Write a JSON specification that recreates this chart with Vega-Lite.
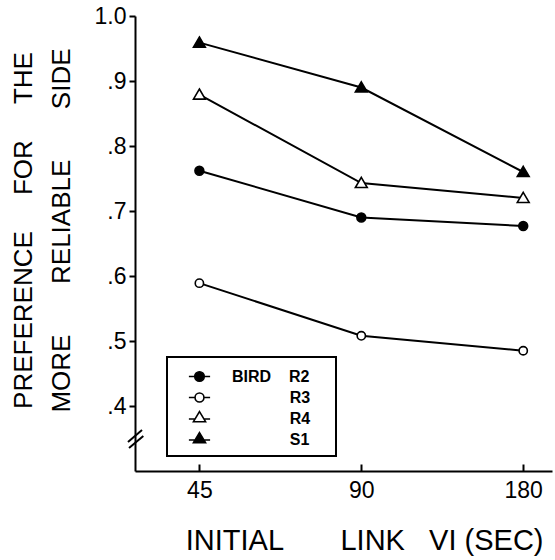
{
  "$schema": "https://vega.github.io/schema/vega-lite/v6.json",
  "width": 417,
  "height": 455,
  "autosize": {"type": "none"},
  "padding": {"left": 135, "top": 16, "right": 3, "bottom": 89},
  "background": "white",
  "config": {
    "view": {"stroke": null},
    "font": "Liberation Sans",
    "axis": {"grid": false, "domainColor": "black", "tickColor": "black", "labelColor": "black", "titleColor": "black", "domainWidth": 2, "tickWidth": 2, "titleFontWeight": "normal"},
    "legend": {"title": null, "orient": "none", "legendX": 32, "legendY": 341, "strokeColor": "black", "strokeWidth": 2, "padding": 8,
      "symbolOffset": 13, "labelOffset": 21, "symbolSize": 450, "symbolStrokeWidth": 1.6,
      "labelFontSize": 16, "labelFontWeight": "bold", "labelColor": "black", "rowPadding": 1, "labelLimit": 300}
  },
  "data": {"values": [
    {"vi": 45, "pref": 0.762, "bird": "R2"}, {"vi": 90, "pref": 0.690, "bird": "R2"}, {"vi": 180, "pref": 0.677, "bird": "R2"},
    {"vi": 45, "pref": 0.589, "bird": "R3"}, {"vi": 90, "pref": 0.508, "bird": "R3"}, {"vi": 180, "pref": 0.485, "bird": "R3"},
    {"vi": 45, "pref": 0.879, "bird": "R4"}, {"vi": 90, "pref": 0.743, "bird": "R4"}, {"vi": 180, "pref": 0.720, "bird": "R4"},
    {"vi": 45, "pref": 0.959, "bird": "S1"}, {"vi": 90, "pref": 0.890, "bird": "S1"}, {"vi": 180, "pref": 0.760, "bird": "S1"}
  ]},
  "resolve": {"scale": {"shape": "independent", "fill": "independent", "stroke": "independent"}},
  "layer": [
    {
      "mark": {"type": "line", "color": "black", "strokeWidth": 2},
      "encoding": {
        "x": {"field": "vi", "type": "quantitative",
          "scale": {"type": "log", "domain": [34.16, 203.6], "nice": false},
          "axis": {"values": [45, 90, 180], "format": "d", "tickSize": -7, "labelPadding": 15, "labelFontSize": 23,
            "title": "INITIAL\u00a0\u00a0\u00a0\u00a0\u00a0\u00a0\u00a0LINK\u00a0\u00a0\u00a0VI\u00a0(SEC)", "titleFontSize": 29, "titlePadding": 24,
            "titleX": 408, "titleAlign": "right", "titleAnchor": "end"}},
        "y": {"field": "pref", "type": "quantitative",
          "scale": {"domain": [0.3, 1.0], "nice": false, "zero": false},
          "axis": {"values": [0.4, 0.5, 0.6, 0.7, 0.8, 0.9, 1.0], "tickSize": 6, "labelPadding": 3, "labelFontSize": 23,
            "labelExpr": "datum.value > 0.95 ? '1.0' : replace(format(datum.value, '.1f'), '0.', '.')",
            "title": ["PREFERENCE\u00a0\u00a0\u00a0\u00a0\u00a0FOR\u00a0\u00a0\u00a0\u00a0\u00a0THE", "MORE\u00a0\u00a0\u00a0\u00a0\u00a0\u00a0\u00a0RELIABLE\u00a0\u00a0\u00a0\u00a0\u00a0\u00a0\u00a0SIDE"],
            "titleFontSize": 26, "titleLineHeight": 38, "titlePadding": 20, "titleY": 214}},
        "detail": {"field": "bird"}
      }
    },
    {
      "mark": {"type": "point", "filled": true, "stroke": "black", "strokeWidth": 1.6, "opacity": 1, "size": 140},
      "encoding": {
        "x": {"field": "vi", "type": "quantitative"},
        "y": {"field": "pref", "type": "quantitative"},
        "shape": {"field": "bird", "type": "nominal", "legend": null,
          "scale": {"domain": ["R2", "R3", "R4", "S1"],
            "range": ["M-0.75,0A0.75,0.75,0,1,1,0.75,0A0.75,0.75,0,1,1,-0.75,0Z", "M-0.7,0A0.7,0.7,0,1,1,0.7,0A0.7,0.7,0,1,1,-0.7,0Z", "M0,-0.95L1,0.75L-1,0.75Z", "M0,-0.95L1,0.75L-1,0.75Z"]}},
        "fill": {"field": "bird", "type": "nominal", "legend": null,
          "scale": {"domain": ["R2", "R3", "R4", "S1"], "range": ["black", "white", "white", "black"]}}
      }
    },
    {
      "transform": [{"filter": "false"}],
      "mark": {"type": "point", "filled": true, "strokeWidth": 1.6, "opacity": 1, "size": 450},
      "encoding": {
        "x": {"field": "vi", "type": "quantitative"},
        "y": {"field": "pref", "type": "quantitative"},
        "shape": {"field": "bird", "type": "nominal",
          "scale": {"domain": ["R2", "R3", "R4", "S1"],
            "range": ["M-1,0L-0.45,0M0.45,0L1,0M-0.45,0A0.45,0.45,0,1,1,0.45,0A0.45,0.45,0,1,1,-0.45,0Z",
                      "M-1,0L-0.42,0M0.42,0L1,0M-0.42,0A0.42,0.42,0,1,1,0.42,0A0.42,0.42,0,1,1,-0.42,0Z",
                      "M-1,0.05L-0.4,0.05M0.4,0.05L1,0.05M0,-0.65L0.57,0.3L-0.57,0.3Z",
                      "M-1,0.05L-0.4,0.05M0.4,0.05L1,0.05M0,-0.65L0.57,0.3L-0.57,0.3Z"]},
          "legend": {
            "labelExpr": "datum.label == 'R2' ? 'BIRD\u00a0\u00a0\u00a0\u00a0R2\u00a0\u00a0\u00a0\u00a0\u200b' : '\u200b\u00a0\u00a0\u00a0\u00a0\u00a0\u00a0\u00a0\u00a0\u00a0\u00a0\u00a0\u00a0\u00a0' + datum.label",
            "encode": {"legend": {"strokeWidth": {"value": 2}}}}},
        "fill": {"field": "bird", "type": "nominal",
          "scale": {"domain": ["R2", "R3", "R4", "S1"], "range": ["black", "white", "white", "black"]},
          "legend": {
            "labelExpr": "datum.label == 'R2' ? 'BIRD\u00a0\u00a0\u00a0\u00a0R2\u00a0\u00a0\u00a0\u00a0\u200b' : '\u200b\u00a0\u00a0\u00a0\u00a0\u00a0\u00a0\u00a0\u00a0\u00a0\u00a0\u00a0\u00a0\u00a0' + datum.label",
            "encode": {"legend": {"strokeWidth": {"value": 2}}}}},
        "stroke": {"field": "bird", "type": "nominal",
          "scale": {"domain": ["R2", "R3", "R4", "S1"], "range": ["black", "black", "black", "black"]},
          "legend": {
            "labelExpr": "datum.label == 'R2' ? 'BIRD\u00a0\u00a0\u00a0\u00a0R2\u00a0\u00a0\u00a0\u00a0\u200b' : '\u200b\u00a0\u00a0\u00a0\u00a0\u00a0\u00a0\u00a0\u00a0\u00a0\u00a0\u00a0\u00a0\u00a0' + datum.label",
            "encode": {"legend": {"strokeWidth": {"value": 2}}}}}
      }
    },
    {
      "data": {"values": [{}]},
      "mark": {"type": "rule", "color": "black", "strokeWidth": 2, "clip": false},
      "encoding": {
        "x": {"datum": 33.15, "type": "quantitative"}, "x2": {"datum": 35.2},
        "y": {"datum": 0.3446, "type": "quantitative"}, "y2": {"datum": 0.3631}
      }
    },
    {
      "data": {"values": [{}]},
      "mark": {"type": "rule", "color": "black", "strokeWidth": 2, "clip": false},
      "encoding": {
        "x": {"datum": 33.3, "type": "quantitative"}, "x2": {"datum": 35.4},
        "y": {"datum": 0.3354, "type": "quantitative"}, "y2": {"datum": 0.3538}
      }
    }
  ]
}
